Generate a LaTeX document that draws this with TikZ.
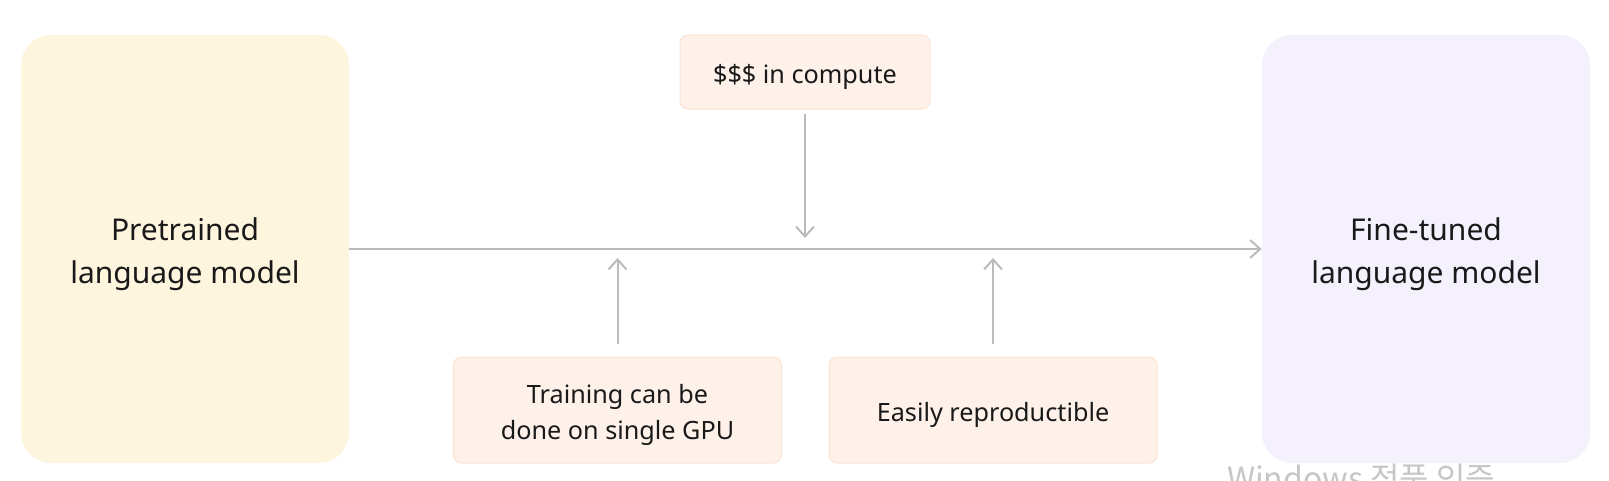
\documentclass[tikz,border=0pt]{standalone}
\usepackage{fontspec}
\setmainfont{Noto Sans}
\newfontfamily\krfont{Noto Sans CJK KR}
\usetikzlibrary{arrows.meta}

\definecolor{preyellow}{HTML}{FEF5DF}
\definecolor{finepurple}{HTML}{F4F1FD}
\definecolor{notefill}{HTML}{FEF1E9}
\definecolor{noteline}{HTML}{FCE3D3}
\definecolor{arrowgray}{HTML}{BBBBBB}
\definecolor{marktext}{HTML}{C6C6C6}

\newcommand\bigtop{\rule{0pt}{16.4pt}}
\newcommand\smalltop{\rule{0pt}{14.6pt}}

\begin{document}
\begin{tikzpicture}[x=0.5pt,y=-0.5pt,
	>={Straight Barb[length=5pt,width=9pt]},
	model/.style={fill=#1,rounded corners=15pt,minimum width=164pt,minimum height=214pt,
		align=center,font=\fontsize{15pt}{21.5pt}\selectfont,text=black!90},
	note/.style={fill=notefill,draw=noteline,line width=0.5pt,rounded corners=4pt,
		minimum height=53pt,minimum width=164pt,align=center,
		font=\fontsize{12.6pt}{17.8pt}\selectfont,text=black!90},
	flow/.style={->,draw=arrowgray,line width=1pt}]
\useasboundingbox (0,0) rectangle (1609,481);

\node[model=preyellow] (pre) at (185,249) {\bigtop Pretrained\\language model};
\node[model=finepurple] (fine) at (1426,249) {\bigtop Fine-tuned\\language model};

\node[note,minimum width=125pt,minimum height=37pt] (cost) at (805,72) {\smalltop\$\$\$ in compute};
\node[note] (gpu) at (617.5,410) {\smalltop Training can be\\done on single GPU};
\node[note] (repro) at (993,410) {\smalltop Easily reproductible};

\coordinate (costhit) at (805,238);
\coordinate (gpuhit) at (617.5,258);
\coordinate (reprohit) at (993,258);

\draw[flow] (pre.east) -- (fine.west);
\draw[flow,shorten <=2pt] (cost.south) -- (costhit);
\draw[flow,shorten <=6.5pt] (gpu.north) -- (gpuhit);
\draw[flow,shorten <=6.5pt] (repro.north) -- (reprohit);

\node[anchor=base west,text=marktext,font=\krfont\fontsize{16pt}{18pt}\selectfont] (mark) at (1220,490) {Windows 정품 인증};
\end{tikzpicture}
\end{document}
